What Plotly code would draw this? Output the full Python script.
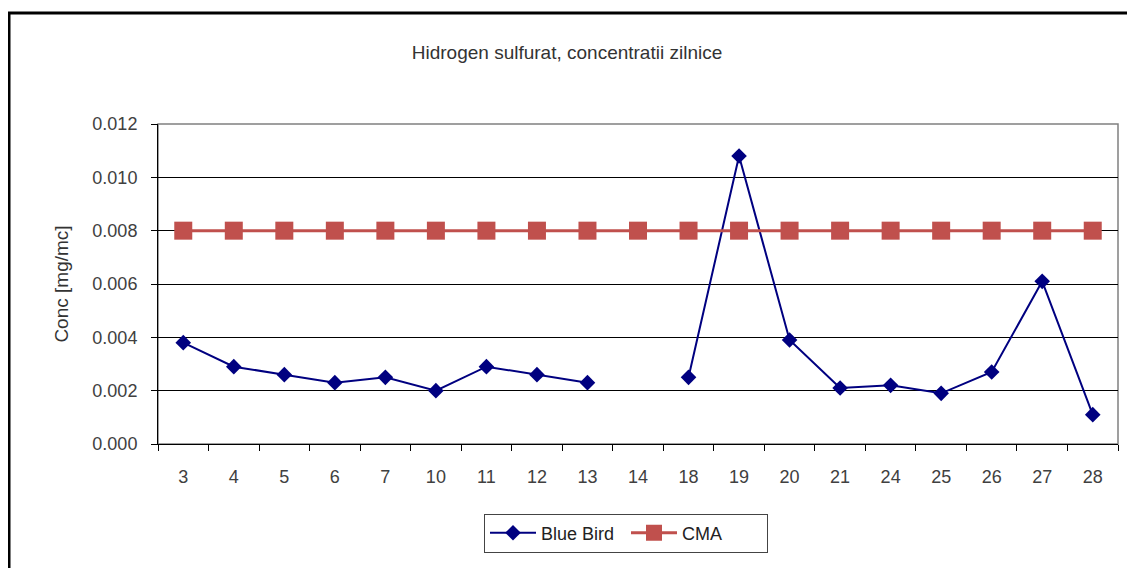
import plotly.graph_objects as go

categories = ["3", "4", "5", "6", "7", "10", "11", "12", "13", "14",
              "18", "19", "20", "21", "24", "25", "26", "27", "28"]
blue_bird = [0.0038, 0.0029, 0.0026, 0.0023, 0.0025, 0.0020, 0.0029, 0.0026, 0.0023, None,
             0.0025, 0.0108, 0.0039, 0.0021, 0.0022, 0.0019, 0.0027, 0.0061, 0.0011]
cma = [0.008] * len(categories)
y_ticks = [0.000, 0.002, 0.004, 0.006, 0.008, 0.010, 0.012]

# page has an 8px body margin; figure coordinates are offset by it
OFF = 8
W, H = 1135 - OFF, 568 - OFF
L, R, T, B = 158 - OFF, 1118 - OFF, 124 - OFF, 444 - OFF

def px(x):
    return (x - OFF - L) / (R - L)

def py(y):
    return (B - (y - OFF)) / (B - T)

fig = go.Figure()
fig.add_trace(go.Scatter(
    x=categories, y=blue_bird, name="Blue Bird", mode="lines+markers",
    connectgaps=False,
    line=dict(color="#000080", width=2),
    marker=dict(symbol="diamond", size=12, color="#000080"),
))
fig.add_trace(go.Scatter(
    x=categories, y=cma, name="CMA", mode="lines+markers",
    line=dict(color="#C0504D", width=3),
    marker=dict(symbol="square", size=18, color="#C0504D"),
))

font = "Liberation Sans, Arial, sans-serif"
tick_font = dict(size=18, color="#404040")
fig.update_layout(
    width=W, height=H,
    margin=dict(l=L, r=W - R, t=T, b=H - B),
    paper_bgcolor="white", plot_bgcolor="white",
    font=dict(family=font, size=18, color="#333333"),
    title=dict(text="Hidrogen sulfurat, concentratii zilnice", x=(567 - OFF) / W, xref="container",
               xanchor="center", y=1 - (52 - OFF) / H, yref="container", yanchor="middle",
               font=dict(size=19, color="#333333")),
    showlegend=True,
    legend=dict(orientation="h", x=px(626), xanchor="center", y=py(533), yanchor="middle",
                bordercolor="#444444", borderwidth=1, bgcolor="white",
                itemwidth=46, entrywidth=80, entrywidthmode="pixels",
                font=dict(size=18, color="#222222")),
    xaxis=dict(type="category", categoryarray=categories, categoryorder="array",
               showgrid=False, showline=True, linecolor="black", linewidth=1,
               ticks="outside", tickson="boundaries", ticklen=6, tickcolor="black",
               tickfont=tick_font, ticklabelstandoff=16, zeroline=False,
               range=[-0.5, len(categories) - 0.5]),
    yaxis=dict(range=[0, 0.012], tickvals=y_ticks, tickformat=".3f",
               showgrid=True, gridcolor="black", gridwidth=1,
               showline=True, linecolor="black", linewidth=1,
               ticks="outside", ticklen=6, tickcolor="black",
               tickfont=tick_font, ticklabelstandoff=10, zeroline=False,
               title=dict(text="Conc [mg/mc]", font=dict(size=19, color="#333333"), standoff=18)),
    shapes=[
        dict(type="rect", xref="paper", yref="paper", x0=0, x1=1, y0=0, y1=1,
             line=dict(color="#808080", width=1.5), layer="below"),
        dict(type="rect", xref="paper", yref="paper",
             x0=px(9), x1=px(1145), y0=py(580), y1=py(13),
             line=dict(color="black", width=3)),
    ],
)

fig.write_html("out.html")
